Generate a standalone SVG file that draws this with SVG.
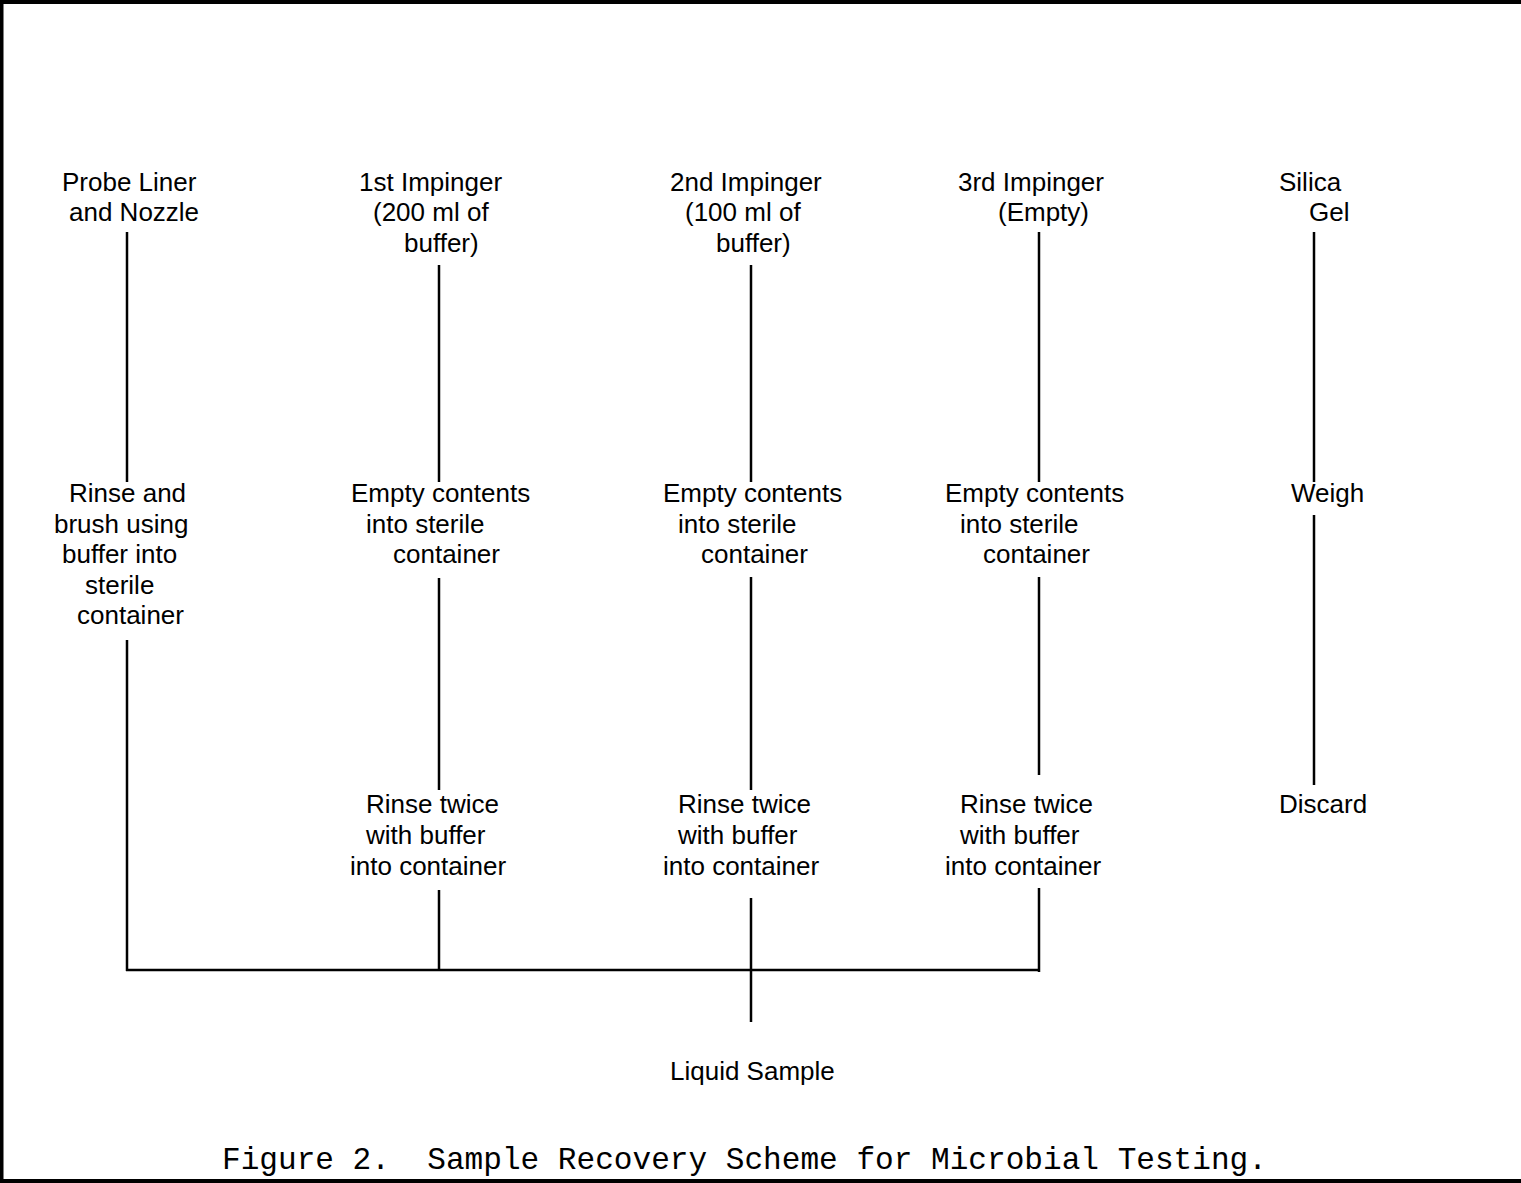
<svg xmlns="http://www.w3.org/2000/svg" width="1521" height="1183" viewBox="0 0 1521 1183">
<style>
text{font-family:"Liberation Sans",Arial,sans-serif;font-size:26px;fill:#000}
.cap{font-family:"Liberation Mono","Courier New",monospace;font-size:31.1px;white-space:pre}
.c line{stroke:#000;stroke-width:2.5}
</style>
<rect width="1521" height="1183" fill="#fff"/>
<path d="M1521,2 H1.5 V1181 H1521" fill="none" stroke="#000" stroke-width="4"/>
<g class="c" id="connectors">
<line x1="127" y1="232" x2="127" y2="482"/>
<line x1="127" y1="640" x2="127" y2="971"/>
<line x1="439" y1="265" x2="439" y2="482"/>
<line x1="439" y1="578" x2="439" y2="790"/>
<line x1="439" y1="890" x2="439" y2="971"/>
<line x1="751" y1="265" x2="751" y2="482"/>
<line x1="751" y1="577" x2="751" y2="790"/>
<line x1="751" y1="898" x2="751" y2="1022"/>
<line x1="1039" y1="232" x2="1039" y2="482"/>
<line x1="1039" y1="577" x2="1039" y2="775"/>
<line x1="1039" y1="888" x2="1039" y2="972"/>
<line x1="1314" y1="232" x2="1314" y2="482"/>
<line x1="1314" y1="515" x2="1314" y2="785"/>
<line x1="126" y1="970" x2="1040" y2="970"/>
</g>
<g id="probe"><text x="62" y="191">Probe Liner</text><text x="69" y="221">and Nozzle</text></g>
<g id="imp1"><text x="359" y="191">1st Impinger</text><text x="373" y="221">(200 ml of</text><text x="404" y="252">buffer)</text></g>
<g id="imp2"><text x="670" y="191">2nd Impinger</text><text x="685" y="221">(100 ml of</text><text x="716" y="252">buffer)</text></g>
<g id="imp3"><text x="958" y="191">3rd Impinger</text><text x="998" y="221">(Empty)</text></g>
<g id="silica"><text x="1279" y="191">Silica</text><text x="1309" y="221">Gel</text></g>
<g id="rinse-probe"><text x="69" y="502">Rinse and</text><text x="54" y="533">brush using</text><text x="62" y="563">buffer into</text><text x="85" y="594">sterile</text><text x="77" y="624">container</text></g>
<g id="empty1"><text x="351" y="502">Empty contents</text><text x="366" y="533">into sterile</text><text x="393" y="563">container</text></g>
<g id="empty2"><text x="663" y="502">Empty contents</text><text x="678" y="533">into sterile</text><text x="701" y="563">container</text></g>
<g id="empty3"><text x="945" y="502">Empty contents</text><text x="960" y="533">into sterile</text><text x="983" y="563">container</text></g>
<g id="weigh"><text x="1291" y="502">Weigh</text></g>
<g id="rinse1"><text x="366" y="813">Rinse twice</text><text x="366" y="844">with buffer</text><text x="350" y="875">into container</text></g>
<g id="rinse2"><text x="678" y="813">Rinse twice</text><text x="678" y="844">with buffer</text><text x="663" y="875">into container</text></g>
<g id="rinse3"><text x="960" y="813">Rinse twice</text><text x="960" y="844">with buffer</text><text x="945" y="875">into container</text></g>
<g id="discard"><text x="1279" y="813">Discard</text></g>
<g id="liquid"><text x="670" y="1080">Liquid Sample</text></g>
<text class="cap" x="222" y="1169">Figure 2.  Sample Recovery Scheme for Microbial Testing.</text>
</svg>
